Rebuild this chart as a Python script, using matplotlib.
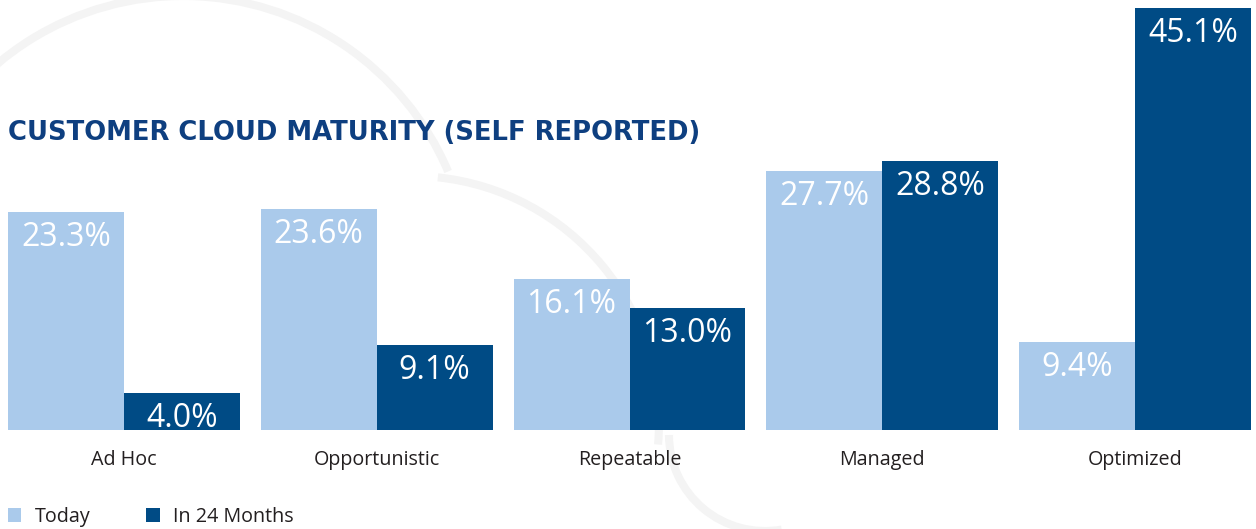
import numpy as np
import matplotlib
matplotlib.use("Agg")
import matplotlib.pyplot as plt
from matplotlib.patches import Arc

# ---- data ----
categories = ["Ad Hoc", "Opportunistic", "Repeatable", "Managed", "Optimized"]
today = [23.3, 23.6, 16.1, 27.7, 9.4]
in_24_months = [4.0, 9.1, 13.0, 28.8, 45.1]
series_names = ["Today", "In 24 Months"]
title = "CUSTOMER CLOUD MATURITY (SELF REPORTED)"

LIGHT = "#AACAEB"
DARK = "#004B85"
TITLE_C = "#0E3F80"
TEXT_C = "#231F20"
FONT = "Open Sans"

W, H = 1256, 529
fig = plt.figure(figsize=(W / 100, H / 100), dpi=100)
fig.patch.set_facecolor("white")

# faint decorative cloud outline in the background (pixel coords, y down)
bg = fig.add_axes([0, 0, 1, 1])
bg.set_xlim(0, W)
bg.set_ylim(H, 0)
bg.axis("off")
arc_kw = dict(color="#F4F4F4", lw=5.8, zorder=0)
bg.add_patch(Arc((183, 284), 576, 576, theta1=205, theta2=337, **arc_kw))
bg.add_patch(Arc((412, 423), 494, 494, theta1=-84, theta2=5, **arc_kw))
bg.add_patch(Arc((765, 435), 192, 192, theta1=80, theta2=180, **arc_kw))

ax = fig.add_axes([8 / W, (H - 430) / H, 1243 / W, 422 / H])
ax.patch.set_alpha(0)
x = np.arange(len(categories))
w = 0.4585
b1 = ax.bar(x - w / 2, today, w, color=LIGHT, label=series_names[0], zorder=2)
b2 = ax.bar(x + w / 2, in_24_months, w, color=DARK, label=series_names[1], zorder=2)
ax.set_xlim(-w, len(categories) - 1 + w)
ax.set_ylim(0, max(in_24_months))
for s in ax.spines.values():
    s.set_visible(False)
ax.set_yticks([])

px = 0.72  # points per pixel at dpi 100
for bars, vals in ((b1, today), (b2, in_24_months)):
    for r, v in zip(bars, vals):
        ax.annotate(f"{v:.1f}%", xy=(r.get_x() + r.get_width() / 2, v),
                    xytext=(0, -34 * px), textcoords="offset points",
                    ha="center", va="baseline", color="white",
                    fontsize=23, family=FONT, zorder=3)

ax.set_xticks(x, categories)
ax.tick_params(axis="x", length=0, pad=35 * px)
for lab in ax.get_xticklabels():
    lab.set_family(FONT)
    lab.set_fontsize(14.2)
    lab.set_color(TEXT_C)
    lab.set_va("baseline")

fig.text(8 / W, (H - 140) / H, title, family="DejaVu Sans", fontsize=18.6,
         fontweight="bold", color=TITLE_C, va="baseline", ha="left")

leg = fig.legend(handles=[b1, b2], labels=series_names, loc="lower left",
                 bbox_to_anchor=(8 / W, 2 / H), ncol=2, frameon=False,
                 borderpad=0, borderaxespad=0, handlelength=0.68,
                 handleheight=0.68, handletextpad=0.7, columnspacing=2.8,
                 prop={"family": FONT, "size": 14.2})
for t in leg.get_texts():
    t.set_color(TEXT_C)

fig.savefig("out.png", dpi=100, facecolor="white")
